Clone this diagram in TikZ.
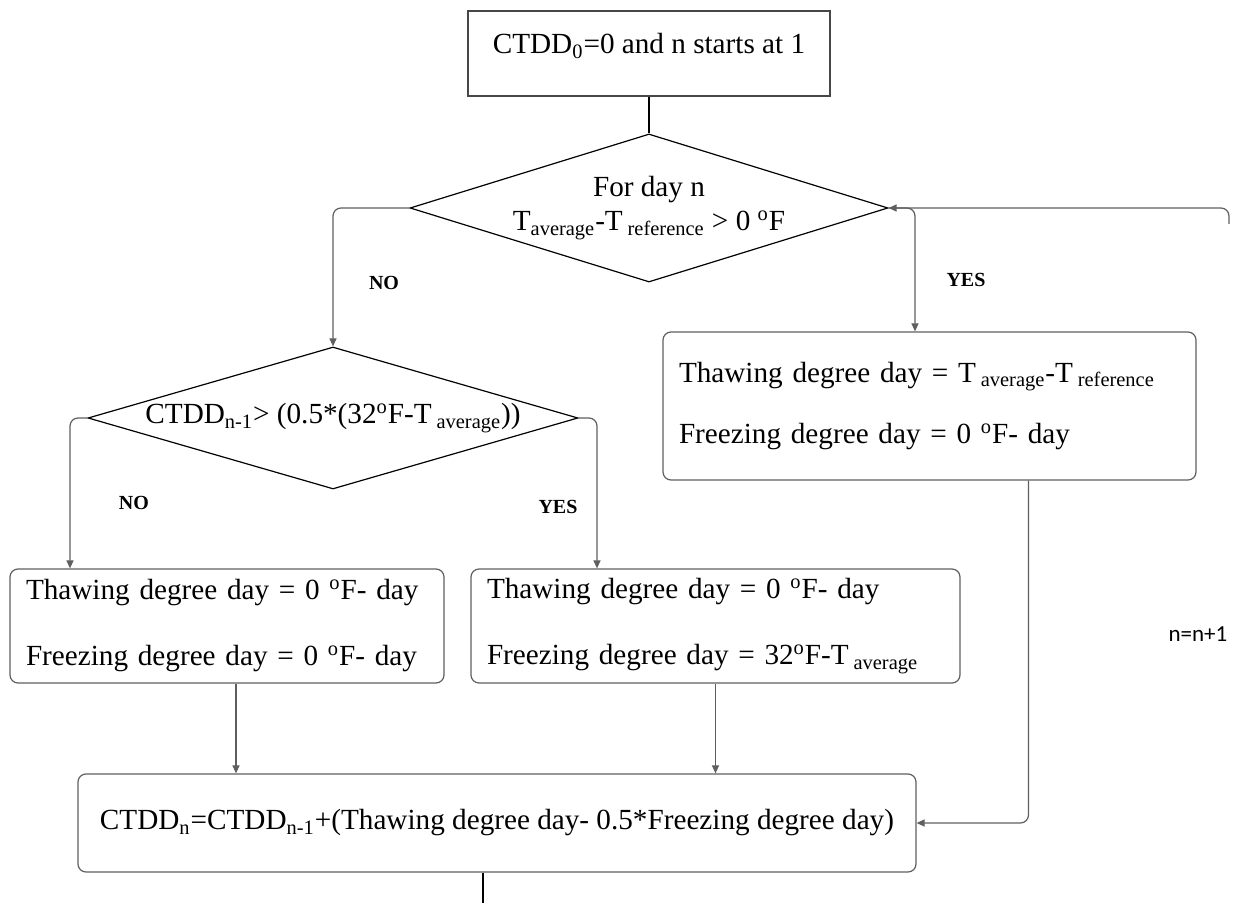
\documentclass[tikz,border=0pt]{standalone}
\usepackage{fontspec}
\setmainfont{Liberation Serif}
\newfontfamily\calibrifont{Carlito}
\usetikzlibrary{shapes.geometric,arrows.meta}
\definecolor{linegray}{HTML}{5f5f5f}
\definecolor{boxgray}{HTML}{474747}

\begin{document}
\begin{tikzpicture}[x=0.5pt, y=-0.5pt,
  txt/.style={font=\fontsize{14.6}{17.5}\selectfont},
  startbox/.style={rectangle, draw=boxgray, line width=0.6pt, inner sep=0pt, txt},
  roundbox/.style={rectangle, rounded corners=4pt, draw=linegray, line width=0.6pt, inner xsep=8pt, inner ysep=0pt, align=left, txt},
  decision/.style={diamond, draw=black, line width=0.6pt, inner sep=0pt, align=center, txt},
  answer/.style={font=\fontsize{10}{12}\selectfont\bfseries},
  conn/.style={draw=linegray, line width=0.6pt, rounded corners=4pt, -{Triangle[length=4pt,width=3.5pt]}, linegray}]

\useasboundingbox (0,0) rectangle (1233,903);

\node[startbox, minimum width=181pt, text height=21.5pt, text depth=21pt] (start) at (649,53.5) {CTDD\textsubscript{0}=0 and n starts at 1};

\node[decision, minimum width=239pt, minimum height=74pt, aspect=3.2] (d1) at (649,208)
  {For day n\\[-0.5pt]T\textsubscript{average}-T\,\textsubscript{reference} > 0 \textsuperscript{o}F};
\node[decision, minimum width=245pt, minimum height=71pt, aspect=3.45] (d2) at (333,418)
  {CTDD\textsubscript{n-1}> (0.5*(32\textsuperscript{o}F-T\,\textsubscript{average}))};

\node[roundbox, text width=250.5pt, minimum height=74pt] (rbox) at (929.5,406)
  {Thawing degree day = T\,\textsubscript{average}-T\,\textsubscript{reference}\\[13pt]Freezing degree day = 0 \textsuperscript{o}F- day};
\node[roundbox, text width=201pt, minimum height=57pt] (lbox) at (227,626)
  {Thawing degree day = 0 \textsuperscript{o}F- day\\[15.5pt]Freezing degree day = 0 \textsuperscript{o}F- day};
\node[roundbox, text width=228.5pt, minimum height=57pt] (mbox) at (715.5,626)
  {Thawing degree day = 0 \textsuperscript{o}F- day\\[15.5pt]Freezing degree day = 32\textsuperscript{o}F-T\,\textsubscript{average}};
\node[roundbox, minimum width=419pt, minimum height=49pt] (bbox) at (497,823)
  {CTDD\textsubscript{n}=CTDD\textsubscript{n-1}+(Thawing degree day- 0.5*Freezing degree day)};

\node[answer] (no1) at (384,283) {NO};
\node[answer] (yes1) at (966,280) {YES};
\node[answer] (no2) at (134,503) {NO};
\node[answer] (yes2) at (558,507) {YES};
\node[font=\calibrifont\fontsize{11.5}{14}\selectfont] (incr) at (1198,634) {n=n+1};

\coordinate (yesturn) at (915,208);
\coordinate (noturn) at (70,418);
\coordinate (yesturnb) at (597,418);
\coordinate (lout) at ([xshift=4.5pt]lbox.south);
\coordinate (rout) at ([xshift=49.5pt]rbox.south);
\coordinate (loopin) at (1229,224);
\coordinate (bottomend) at (483,903);

\draw[line width=0.6pt] (start.south) -- (d1.north);
\draw[conn] (d1.west) -| (d2.north);
\draw[conn] (d1.east) -- (yesturn) -- (yesturn |- rbox.north);
\draw[conn] (d2.west) -- (noturn) -- (noturn |- lbox.north);
\draw[conn] (d2.east) -- (yesturnb) -- (yesturnb |- mbox.north);
\draw[conn] (lout) -- (lout |- bbox.north);
\draw[conn] (mbox.south) -- (mbox.south |- bbox.north);
\draw[conn] (rout) |- (bbox.east);
\draw[conn] (loopin) |- (d1.east);
\draw[line width=0.6pt] (bbox.south -| bottomend) -- (bottomend);

\end{tikzpicture}
\end{document}
